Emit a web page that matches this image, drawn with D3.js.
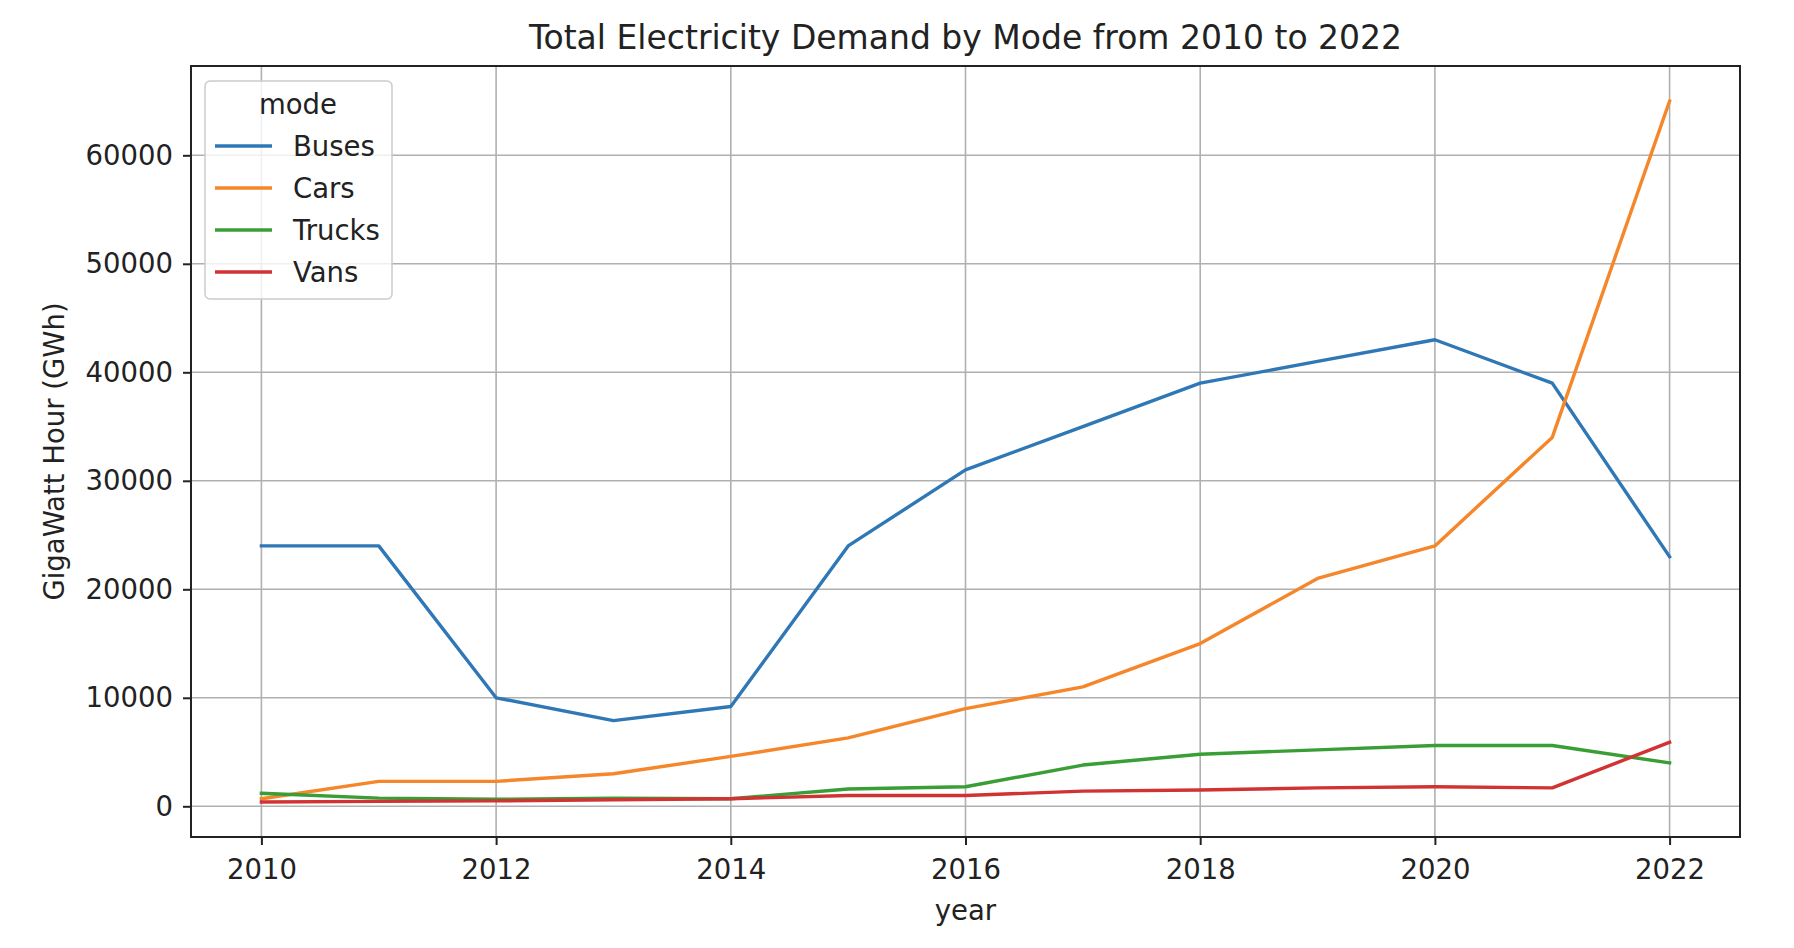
<html>
<head>
  <meta http-equiv="Content-Type" content="text/html; charset=utf-8" />
  <title>Total Electricity Demand by Mode</title>
  <script src="https://cdn.jsdelivr.net/npm/d3@7"></script>
  <style>
      body { margin: 0; background: white; font-family: "DejaVu Sans", sans-serif; }
      svg { display: block; }
      .tick text { fill: #222; }
  </style>
</head>
<body>
<div id="chart"></div>
<script>
// data
var years = [2010, 2011, 2012, 2013, 2014, 2015, 2016, 2017, 2018, 2019, 2020, 2021, 2022];
var modes = ["Buses", "Cars", "Trucks", "Vans"];
var buses  = [24000, 24000, 10000, 7900, 9200, 24000, 31000, 35000, 39000, 41000, 43000, 39000, 23000];
var cars   = [700, 2300, 2300, 3000, 4600, 6300, 9000, 11000, 15000, 21000, 24000, 34000, 65000];
var trucks = [1200, 750, 650, 750, 700, 1600, 1800, 3800, 4800, 5200, 5600, 5600, 4000];
var vans   = [400, 450, 500, 600, 700, 1000, 1000, 1400, 1500, 1700, 1800, 1700, 5900];
var xTicks = [2010, 2012, 2014, 2016, 2018, 2020, 2022];
var yTicks = [0, 10000, 20000, 30000, 40000, 50000, 60000];
var colors = ["#2f78b5", "#f5862a", "#3a9e36", "#d13232"];

var width = 1794, height = 948;
var margin = {left: 191, right: 54, top: 66, bottom: 111};
var fs = 27.5;

var series = [buses, cars, trucks, vans].map(function(vals, i) {
    return { name: modes[i], color: colors[i],
             values: vals.map(function(v, j) { return { year: years[j], value: v }; }) };
});

// matplotlib style 5% padding around the data
var xMin = d3.min(years), xMax = d3.max(years);
var allVals = d3.merge([buses, cars, trucks, vans]);
var yMin = d3.min(allVals), yMax = d3.max(allVals);
var xPad = (xMax - xMin) * 0.05, yPad = (yMax - yMin) * 0.05;

var x = d3.scaleLinear()
    .domain([xMin - xPad, xMax + xPad])
    .range([margin.left, width - margin.right]);
var y = d3.scaleLinear()
    .domain([yMin - yPad, yMax + yPad])
    .range([height - margin.bottom, margin.top]);

var svg = d3.select("#chart").append("svg")
    .attr("width", width)
    .attr("height", height);

// grid
svg.append("g").selectAll("line")
    .data(xTicks).enter().append("line")
    .attr("x1", function(d) { return x(d); }).attr("x2", function(d) { return x(d); })
    .attr("y1", margin.top).attr("y2", height - margin.bottom)
    .attr("stroke", "#b0b0b0").attr("stroke-width", 1.6);
svg.append("g").selectAll("line")
    .data(yTicks).enter().append("line")
    .attr("x1", margin.left).attr("x2", width - margin.right)
    .attr("y1", function(d) { return y(d); }).attr("y2", function(d) { return y(d); })
    .attr("stroke", "#b0b0b0").attr("stroke-width", 1.6);

// lines
var line = d3.line()
    .x(function(d) { return x(d.year); })
    .y(function(d) { return y(d.value); });

svg.append("g").selectAll("path")
    .data(series).enter().append("path")
    .attr("d", function(d) { return line(d.values); })
    .attr("fill", "none")
    .attr("stroke", function(d) { return d.color; })
    .attr("stroke-width", 3.4)
    .attr("stroke-linejoin", "round")
    .attr("stroke-linecap", "square");

// axes
var xAxis = d3.axisBottom(x).tickValues(xTicks).tickFormat(d3.format("d"))
    .tickSize(8).tickPadding(14);
var yAxis = d3.axisLeft(y).tickValues(yTicks).tickFormat(d3.format("d"))
    .tickSize(8).tickPadding(10);

var gx = svg.append("g")
    .attr("transform", "translate(0," + (height - margin.bottom) + ")")
    .call(xAxis);
var gy = svg.append("g")
    .attr("transform", "translate(" + margin.left + ",0)")
    .call(yAxis);
[gx, gy].forEach(function(g) {
    g.select(".domain").remove();
    g.selectAll(".tick line").attr("stroke", "#222").attr("stroke-width", 2);
    g.selectAll(".tick text").style("font-size", fs + "px")
        .style("font-family", "DejaVu Sans");
});

// frame
svg.append("rect")
    .attr("x", margin.left).attr("y", margin.top)
    .attr("width", width - margin.left - margin.right)
    .attr("height", height - margin.top - margin.bottom)
    .attr("fill", "none").attr("stroke", "#222").attr("stroke-width", 2);

// title and labels
svg.append("text")
    .attr("x", (margin.left + width - margin.right) / 2).attr("y", 49)
    .attr("text-anchor", "middle")
    .style("font-size", "33px").attr("fill", "#222")
    .text("Total Electricity Demand by Mode from 2010 to 2022");
svg.append("text")
    .attr("x", (margin.left + width - margin.right) / 2).attr("y", 920)
    .attr("text-anchor", "middle")
    .style("font-size", fs + "px").attr("fill", "#222")
    .text("year");
svg.append("text")
    .attr("transform", "translate(64," + ((margin.top + height - margin.bottom) / 2) + ") rotate(-90)")
    .attr("text-anchor", "middle")
    .style("font-size", fs + "px").attr("fill", "#222")
    .text("GigaWatt Hour (GWh)");

// legend
var lg = svg.append("g").attr("transform", "translate(205,81)");
lg.append("rect")
    .attr("width", 187).attr("height", 218).attr("rx", 5)
    .attr("fill", "white").attr("fill-opacity", 0.8)
    .attr("stroke", "#cccccc").attr("stroke-width", 1.5);
lg.append("text")
    .attr("x", 93).attr("y", 33).attr("text-anchor", "middle")
    .style("font-size", fs + "px").attr("fill", "#222")
    .text("mode");
var items = lg.selectAll(".item").data(series).enter().append("g")
    .attr("transform", function(d, i) { return "translate(0," + (65 + i * 42) + ")"; });
items.append("line")
    .attr("x1", 10).attr("x2", 67)
    .attr("stroke", function(d) { return d.color; }).attr("stroke-width", 3.4);
items.append("text")
    .attr("x", 88).attr("y", 10)
    .style("font-size", fs + "px").attr("fill", "#222")
    .text(function(d) { return d.name; });
</script>
</body>
</html>
